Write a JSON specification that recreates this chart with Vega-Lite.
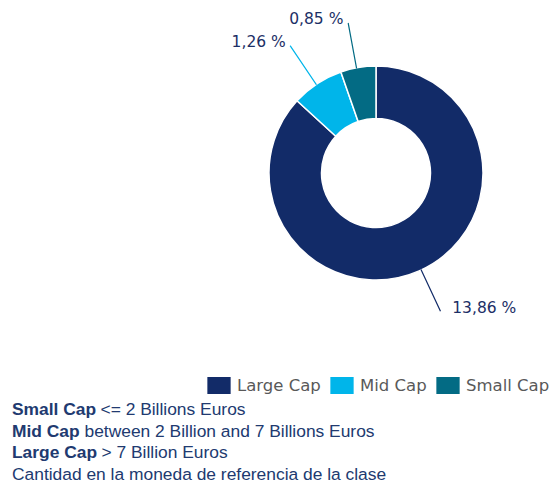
{
  "$schema": "https://vega.github.io/schema/vega-lite/v6.json",
  "width": 558,
  "height": 483,
  "padding": 0,
  "autosize": {"type": "none"},
  "background": "white",
  "config": {"view": {"stroke": null}},
  "datasets": {
    "caps": [
      {"cat": "Large Cap", "value": 13.86, "label": "13,86 %"},
      {"cat": "Mid Cap", "value": 1.26, "label": "1,26 %"},
      {"cat": "Small Cap", "value": 0.85, "label": "0,85 %"}
    ],
    "notes": [
      {"line": 1, "bold": "Small Cap", "text": "<= 2 Billions Euros"},
      {"line": 2, "bold": "Mid Cap", "text": "between 2 Billion and 7 Billions Euros"},
      {"line": 3, "bold": "Large Cap", "text": "> 7 Billion Euros"},
      {"line": 4, "bold": "", "text": "Cantidad en la moneda de referencia de la clase"}
    ]
  },
  "layer": [
    {
      "data": {"name": "caps"},
      "transform": [
        {"stack": "value", "groupby": [], "as": ["v0", "v1"], "sort": [{"field": "cat", "order": "ascending"}]}
      ],
      "layer": [
        {
          "mark": {"type": "arc", "x": 376, "y": 173, "radius": 107, "innerRadius": 54.5, "stroke": "white", "strokeWidth": 1.5},
          "encoding": {
            "theta": {"field": "v0", "type": "quantitative", "stack": null, "scale": {"domain": [0, 15.97]}},
            "theta2": {"field": "v1"},
            "color": {
              "field": "cat", "type": "nominal",
              "scale": {"domain": ["Large Cap", "Mid Cap", "Small Cap"], "range": ["#122b68", "#00b5ea", "#036b84"]},
              "legend": {
                "orient": "none", "legendX": 210.5, "legendY": 377, "direction": "horizontal", "title": null,
                "symbolType": "M-1.37,-1H1.37V1H-1.37Z", "symbolSize": 289, "symbolStrokeWidth": 0,
                "labelFont": "DejaVu Sans", "labelFontSize": 16.5, "labelColor": "#595959",
                "labelOffset": 9.5, "columnPadding": 8, "padding": 0
              }
            }
          }
        },
        {
          "transform": [{"filter": "datum.cat === 'Large Cap'"}],
          "mark": {"type": "arc", "x": 376, "y": 173, "radius": 152, "innerRadius": 107, "filled": false, "color": "#122b68", "strokeWidth": 1.2, "thetaOffset": 2.7053, "theta2Offset": -2.7477},
          "encoding": {
            "theta": {"field": "v0", "type": "quantitative", "stack": null, "scale": {"domain": [0, 15.97]}},
            "theta2": {"field": "v1"}
          }
        },
        {
          "transform": [{"filter": "datum.cat === 'Mid Cap'"}],
          "mark": {"type": "arc", "x": 376, "y": 173, "radius": 153, "innerRadius": 107, "filled": false, "color": "#00b5ea", "strokeWidth": 1.2, "thetaOffset": 0.2368, "theta2Offset": -0.259},
          "encoding": {
            "theta": {"field": "v0", "type": "quantitative", "stack": null, "scale": {"domain": [0, 15.97]}},
            "theta2": {"field": "v1"}
          }
        },
        {
          "transform": [{"filter": "datum.cat === 'Small Cap'"}],
          "mark": {"type": "arc", "x": 376, "y": 173, "radius": 152, "innerRadius": 107, "filled": false, "color": "#036b84", "strokeWidth": 1.2, "thetaOffset": 0.1511, "theta2Offset": -0.1833},
          "encoding": {
            "theta": {"field": "v0", "type": "quantitative", "stack": null, "scale": {"domain": [0, 15.97]}},
            "theta2": {"field": "v1"}
          }
        },
        {
          "transform": [{"filter": "datum.cat === 'Large Cap'"}],
          "mark": {"type": "text", "x": 376, "y": 173, "radius": 173, "thetaOffset": 2.4655, "align": "center", "baseline": "middle", "font": "DejaVu Sans", "fontSize": 15.5, "color": "#1c2f66"},
          "encoding": {
            "theta": {"field": "v0", "type": "quantitative", "stack": null, "scale": {"domain": [0, 15.97]}},
            "text": {"field": "label"}
          }
        },
        {
          "transform": [{"filter": "datum.cat === 'Mid Cap'"}],
          "mark": {"type": "text", "x": 376, "y": 173, "radius": 175.5, "thetaOffset": 0.098, "align": "center", "baseline": "middle", "font": "DejaVu Sans", "fontSize": 15.5, "color": "#1c2f66"},
          "encoding": {
            "theta": {"field": "v0", "type": "quantitative", "stack": null, "scale": {"domain": [0, 15.97]}},
            "text": {"field": "label"}
          }
        },
        {
          "transform": [{"filter": "datum.cat === 'Small Cap'"}],
          "mark": {"type": "text", "x": 376, "y": 173, "radius": 165, "thetaOffset": -0.0359, "align": "center", "baseline": "middle", "font": "DejaVu Sans", "fontSize": 15.5, "color": "#1c2f66"},
          "encoding": {
            "theta": {"field": "v0", "type": "quantitative", "stack": null, "scale": {"domain": [0, 15.97]}},
            "text": {"field": "label"}
          }
        }
      ]
    },
    {
      "data": {"name": "notes"},
      "layer": [
        {
          "mark": {"type": "text", "x": 12, "align": "left", "baseline": "alphabetic", "font": "Liberation Sans", "fontSize": 17.4, "fontWeight": "bold", "color": "#213a70"},
          "encoding": {
            "y": {"field": "line", "type": "ordinal", "scale": {"type": "point", "domain": [1, 2, 3, 4], "range": [415, 480], "padding": 0}, "axis": null},
            "text": {"field": "bold"}
          }
        },
        {
          "transform": [{"filter": "datum.line === 1"}],
          "mark": {"type": "text", "x": 100.5, "align": "left", "baseline": "alphabetic", "font": "Liberation Sans", "fontSize": 17.4, "color": "#213a70"},
          "encoding": {
            "y": {"field": "line", "type": "ordinal", "axis": null},
            "text": {"field": "text"}
          }
        },
        {
          "transform": [{"filter": "datum.line === 2"}],
          "mark": {"type": "text", "x": 84.5, "align": "left", "baseline": "alphabetic", "font": "Liberation Sans", "fontSize": 17.4, "color": "#213a70"},
          "encoding": {
            "y": {"field": "line", "type": "ordinal", "axis": null},
            "text": {"field": "text"}
          }
        },
        {
          "transform": [{"filter": "datum.line === 3"}],
          "mark": {"type": "text", "x": 101.5, "align": "left", "baseline": "alphabetic", "font": "Liberation Sans", "fontSize": 17.4, "color": "#213a70"},
          "encoding": {
            "y": {"field": "line", "type": "ordinal", "axis": null},
            "text": {"field": "text"}
          }
        },
        {
          "transform": [{"filter": "datum.line === 4"}],
          "mark": {"type": "text", "x": 12, "align": "left", "baseline": "alphabetic", "font": "Liberation Sans", "fontSize": 17.4, "color": "#213a70"},
          "encoding": {
            "y": {"field": "line", "type": "ordinal", "axis": null},
            "text": {"field": "text"}
          }
        }
      ]
    }
  ]
}
